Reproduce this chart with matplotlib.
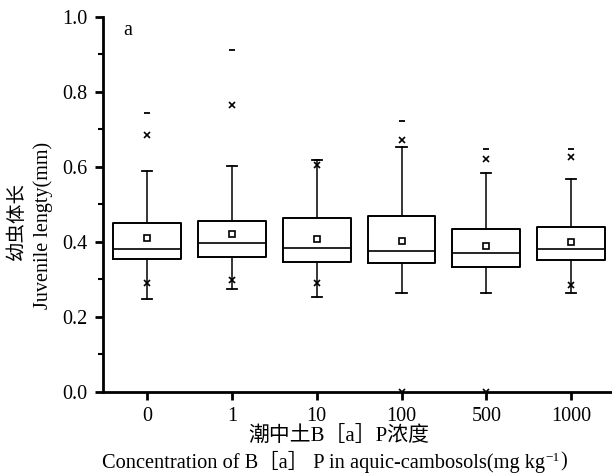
import matplotlib
matplotlib.use("Agg")
import matplotlib.pyplot as plt
from matplotlib.text import Annotation

plt.rcParams['font.family'] = ['Liberation Serif', 'Noto Sans CJK SC', 'DejaVu Serif']

# data
groups = ['0', '1', '10', '100', '500', '1000']
q1 = [0.354, 0.359, 0.346, 0.345, 0.332, 0.351]
q3 = [0.450, 0.457, 0.463, 0.468, 0.435, 0.440]
med = [0.380, 0.398, 0.385, 0.377, 0.370, 0.380]
mean = [0.410, 0.421, 0.407, 0.403, 0.388, 0.401]
whislo = [0.248, 0.274, 0.252, 0.263, 0.263, 0.263]
whishi = [0.588, 0.603, 0.619, 0.652, 0.585, 0.568]
p1 = [0.290, 0.299, 0.291, 0.0, 0.0, 0.285]     # 1% (x marks)
p99 = [0.685, 0.765, 0.605, 0.672, 0.621, 0.627]  # 99% (x marks)
vmax = [0.743, 0.912, 0.619, 0.722, 0.649, 0.649]  # max (dash)

fig = plt.figure(figsize=(6.12, 4.76), dpi=100)
ax = fig.add_axes([0.168, 0.1765, 0.832, 0.7878])

stats = []
for i in range(len(groups)):
    stats.append(dict(label=groups[i], q1=q1[i], q3=q3[i], med=med[i], mean=mean[i],
                      whislo=whislo[i], whishi=whishi[i], fliers=[]))
pos = list(range(len(groups)))
ax.bxp(stats, positions=pos, widths=0.8, showmeans=True, showfliers=False,
       boxprops=dict(color='black', linewidth=1.4),
       medianprops=dict(color='black', linewidth=1.2),
       whiskerprops=dict(color='black', linewidth=1.1),
       capprops=dict(color='black', linewidth=1.3),
       capwidths=0.12,
       meanprops=dict(marker='s', markerfacecolor='white', markeredgecolor='black',
                      markersize=4.5, markeredgewidth=1.2))

ax.plot(pos, p1, 'x', color='black', ms=4.5, mew=1.2, linestyle='none')
ax.plot(pos, p99, 'x', color='black', ms=4.5, mew=1.2, linestyle='none')
ax.plot(pos, vmax, '_', color='black', ms=5, mew=1.3, linestyle='none')

ax.set_xlim(-0.52, 5.48)
ax.set_ylim(0, 1.0)
ax.set_yticks([0.0, 0.2, 0.4, 0.6, 0.8, 1.0])
ax.set_yticklabels(['0.0', '0.2', '0.4', '0.6', '0.8', '1.0'])
ax.set_yticks([0.1, 0.3, 0.5, 0.7, 0.9], minor=True)
ax.set_xticks(pos)
ax.set_xticklabels(groups)

for s in ['top', 'right']:
    ax.spines[s].set_visible(False)
for s in ['left', 'bottom']:
    ax.spines[s].set_linewidth(2.0)
ax.tick_params(axis='both', which='major', direction='out', length=6, width=2.0,
               labelsize=14.5, pad=5)
ax.tick_params(axis='y', which='minor', direction='out', length=3.5, width=1.5)

ax.text(0.04, 0.99, 'a', transform=ax.transAxes, fontsize=14.5, va='top')

fig.text(0.028, 0.536, '幼虫体长', rotation=90, ha='center', va='center', fontsize=14)
fig.text(0.071, 0.527, 'Juvenile lengty(mm)', rotation=90, ha='center', va='center',
         fontsize=14.5)
fig.text(0.554, 0.084, '潮中土B［a］P浓度', ha='center', va='center', fontsize=15)

# english x label, with a small raised -1
t1 = fig.text(0.167, 0.029, 'Concentration of B［a］ P in aquic-cambosols(mg kg',
              ha='left', va='center', fontsize=14.7)
sup = Annotation('\u22121', xy=(1, 0), xycoords=t1, xytext=(0.3, 7),
                 textcoords='offset points', fontsize=9.5, va='bottom', ha='left')
fig.add_artist(sup)
fig.add_artist(Annotation(')', xy=(1, 0.5), xycoords=(sup, t1), xytext=(0.3, 0),
                          textcoords='offset points', fontsize=14.7, va='center', ha='left'))

fig.savefig('out.png', dpi=100)
